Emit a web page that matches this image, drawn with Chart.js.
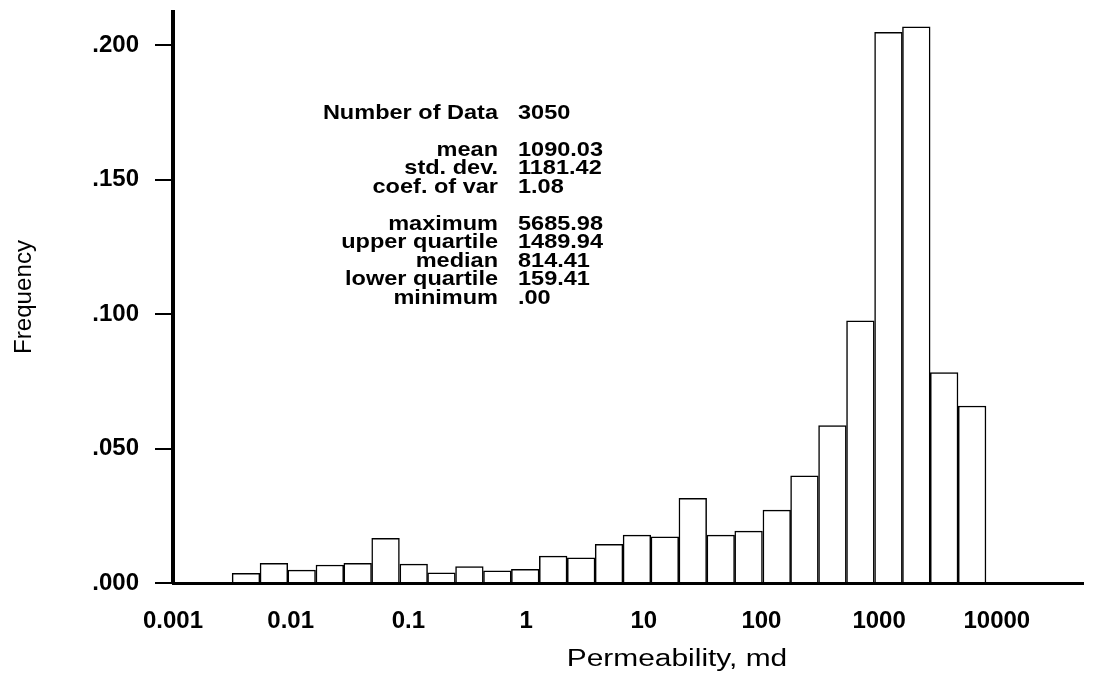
<!DOCTYPE html>
<html>
<head>
<meta charset="utf-8">
<title>Permeability histogram</title>
<script src="https://cdn.jsdelivr.net/npm/chart.js@4.4.1/dist/chart.umd.min.js"></script>
<style>
  html, body { margin: 0; padding: 0; background: #fff; }
  canvas { display: block; }
</style>
</head>
<body>
<canvas id="histChart" width="1102" height="677"></canvas>
<script>
// bin centres (md, log bins) and frequencies
const binCenters = [0.00417, 0.0072, 0.0124, 0.0215, 0.0371, 0.064, 0.111, 0.191, 0.33, 0.57,
  0.984, 1.70, 2.94, 5.07, 8.75, 15.1, 26.1, 45.1, 77.8, 135,
  232, 401, 693, 1200, 2070, 3570, 6170];
const frequencies = [0.0036, 0.0073, 0.0048, 0.0067, 0.0073, 0.0166, 0.0070, 0.0038, 0.0061, 0.0045,
  0.0051, 0.0100, 0.0094, 0.0144, 0.0178, 0.0172, 0.0315, 0.0178, 0.0193, 0.0271,
  0.0398, 0.0585, 0.0975, 0.2047, 0.2068, 0.0782, 0.0658];

const xTickValues = [0.001, 0.01, 0.1, 1, 10, 100, 1000, 10000];
const xTickLabels = ['0.001', '0.01', '0.1', '1', '10', '100', '1000', '10000'];
const yTickValues = [0, 0.05, 0.1, 0.15, 0.2];
const yTickLabels = ['.000', '.050', '.100', '.150', '.200'];

const statLabels = ['Number of Data', 'mean', 'std. dev.', 'coef. of var',
  'maximum', 'upper quartile', 'median', 'lower quartile', 'minimum'];
const statValues = ['3050', '1090.03', '1181.42', '1.08',
  '5685.98', '1489.94', '814.41', '159.41', '.00'];
const statGroupStarts = [1, 4];

const FONT = '"Liberation Sans", Arial, Helvetica, sans-serif';
let chartInstance = null;

function drawScaled(ctx, text, x, y, align, sx) {
  ctx.save();
  ctx.translate(x, y);
  ctx.scale(sx, 1);
  ctx.textAlign = align;
  ctx.fillText(text, 0, 0);
  ctx.restore();
}

const textPlugin = {
  id: 'textPlugin',
  afterDraw(chart) {
    const ctx = chart.ctx;
    ctx.save();
    ctx.fillStyle = '#000';
    ctx.textBaseline = 'middle';

    // statistics block
    ctx.font = 'bold 21px ' + FONT;
    let y = 113;
    statLabels.forEach((label, i) => {
      if (statGroupStarts.includes(i)) y += 18.5;
      drawScaled(ctx, label, 498, y, 'right', 1.12);
      drawScaled(ctx, statValues[i], 518, y, 'left', 1.12);
      y += 18.5;
    });

    // axis titles
    ctx.font = '23px ' + FONT;
    drawScaled(ctx, 'Permeability, md', 677, 660, 'center', 1.3);

    ctx.save();
    ctx.translate(25, 297);
    ctx.rotate(-Math.PI / 2);
    drawScaled(ctx, 'Frequency', 0, 0, 'center', 1.05);
    ctx.restore();

    ctx.restore();
  }
};

function drawChart() {
  const ctx = document.getElementById('histChart').getContext('2d');
  if (chartInstance) chartInstance.destroy();

  Chart.defaults.font.family = FONT;
  Chart.defaults.color = '#000';

  chartInstance = new Chart(ctx, {
    type: 'bar',
    data: {
      datasets: [{
        label: 'Frequency',
        data: binCenters.map((x, i) => ({ x: x, y: frequencies[i] })),
        backgroundColor: '#fff',
        borderColor: '#000',
        borderWidth: 1.5,
        barPercentage: 1,
        categoryPercentage: 1
      }]
    },
    options: {
      responsive: false,
      animation: false,
      devicePixelRatio: 1,
      layout: { padding: { top: 12, right: 19, bottom: 0, left: 0 } },
      plugins: {
        legend: { display: false },
        tooltip: { enabled: false }
      },
      scales: {
        x: {
          type: 'logarithmic',
          min: 0.001,
          max: 54000,
          offset: false,
          afterBuildTicks: (scale) => { scale.ticks = xTickValues.map(v => ({ value: v })); },
          afterFit: (scale) => {
            scale.height = 94;
            scale.paddingLeft = 0;
            scale.paddingRight = 0;
          },
          grid: { display: false, offset: false },
          border: { display: true, color: '#000', width: 3 },
          ticks: {
            autoSkip: false,
            maxRotation: 0,
            padding: 16,
            font: { size: 24, weight: 'bold' },
            callback: (value, index) => xTickLabels[index]
          }
        },
        y: {
          type: 'linear',
          min: 0,
          max: 0.2123,
          afterBuildTicks: (scale) => { scale.ticks = yTickValues.map(v => ({ value: v })); },
          afterFit: (scale) => {
            scale.width = 173;
            scale.paddingTop = 0;
            scale.paddingBottom = 0;
          },
          grid: { drawOnChartArea: false, drawTicks: true, tickLength: 18, color: '#000', lineWidth: 2 },
          border: { display: true, color: '#000', width: 4 },
          ticks: {
            autoSkip: false,
            padding: 16,
            font: { size: 24, weight: 'bold' },
            callback: (value, index) => yTickLabels[index]
          }
        }
      }
    },
    plugins: [textPlugin]
  });
}

drawChart();
</script>
</body>
</html>
